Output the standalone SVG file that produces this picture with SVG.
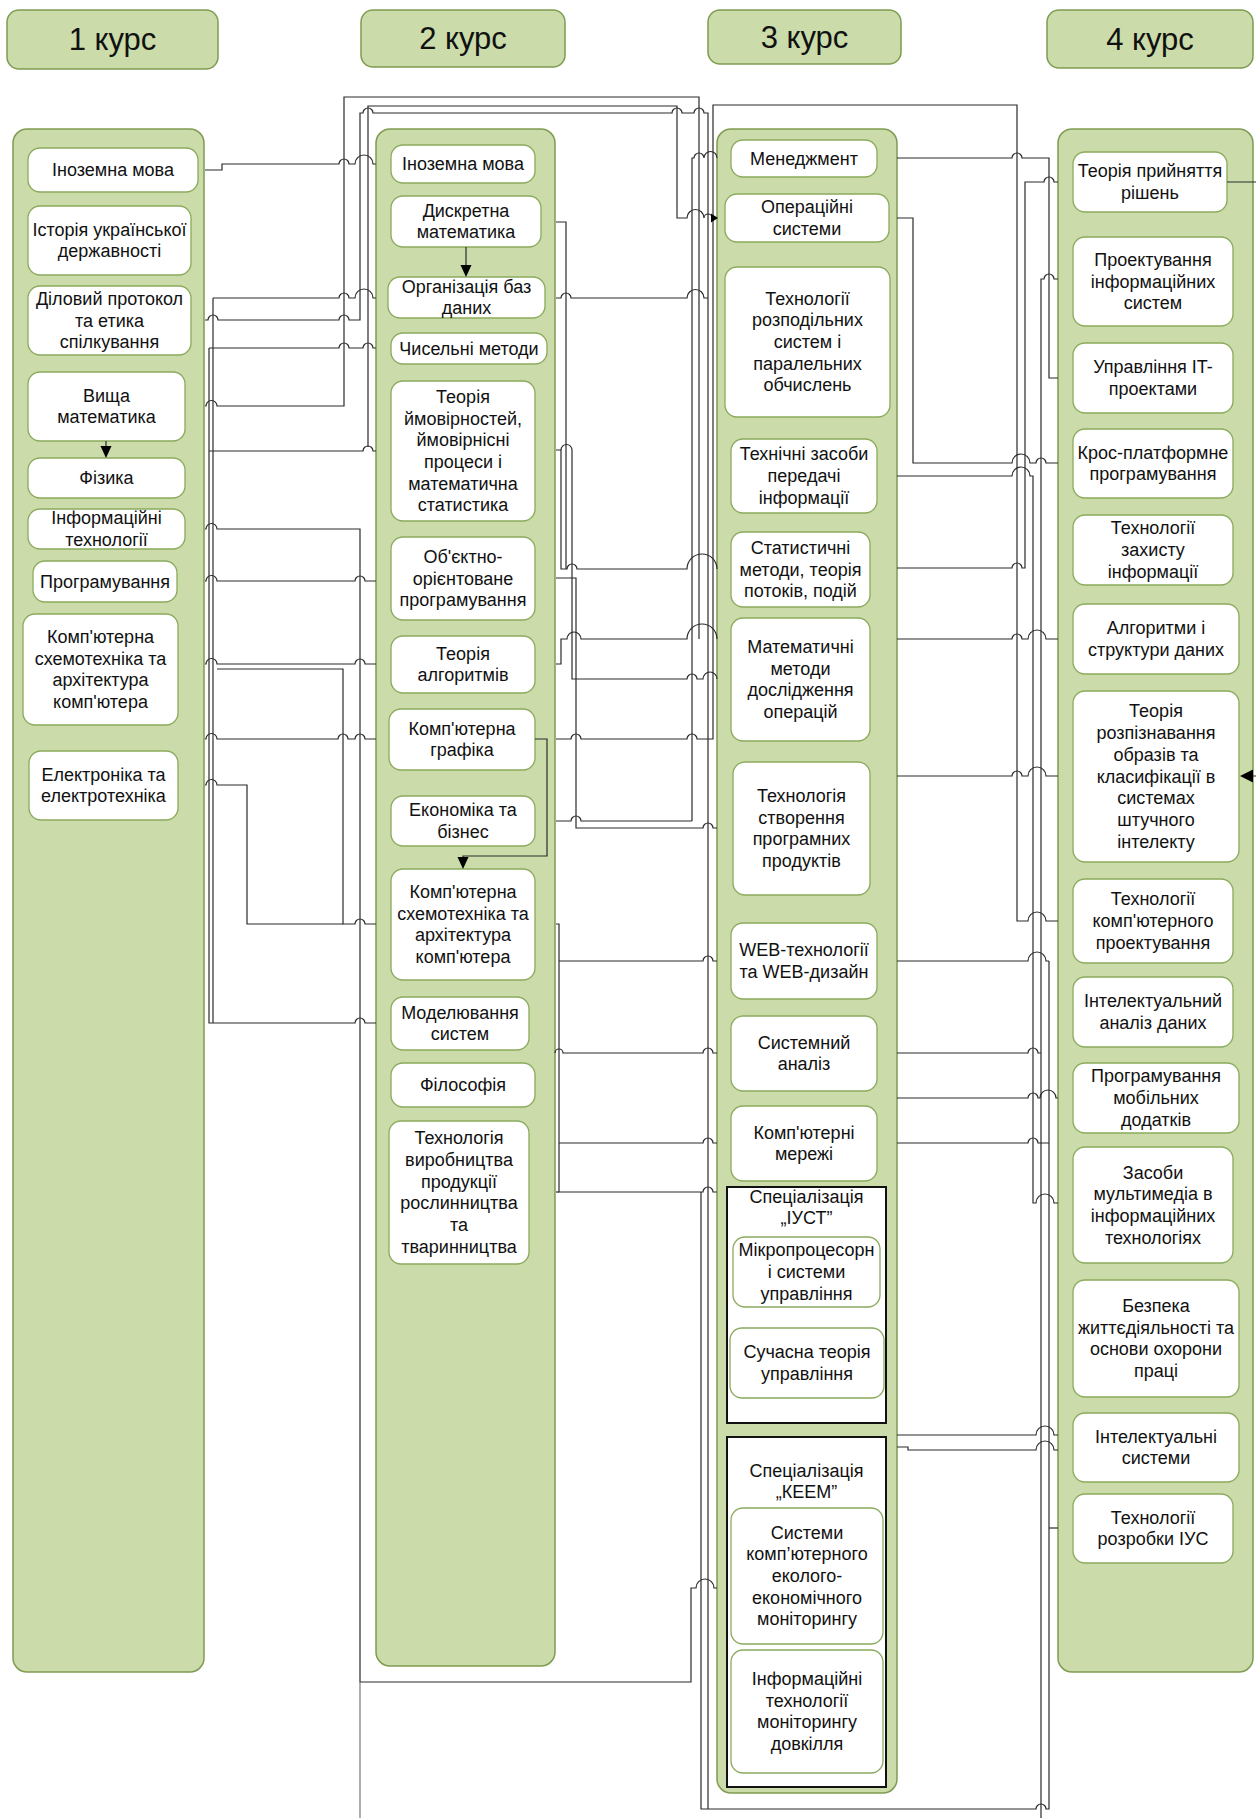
<svg xmlns="http://www.w3.org/2000/svg" width="1256" height="1818" viewBox="0 0 1256 1818">
<style>
.panel{fill:#cbdba9;stroke:#7f9c52;stroke-width:1.5}
.node{fill:#fff;stroke:#8aab5c;stroke-width:1.3}
.spec{fill:#fff;stroke:#111;stroke-width:2}
.t{font-family:"Liberation Sans",Arial,sans-serif;font-size:18px;fill:#111;text-anchor:middle;dominant-baseline:central}
.h{font-size:31px}
.c{fill:none;stroke:#2a2a2a;stroke-width:1.2}
.ah{fill:#000}
</style>
<rect width="1256" height="1818" fill="#fff"/>
<g id="headers">
<g id="h1"><rect class="panel" x="7" y="10" width="211" height="59" rx="12"/><text class="t h" x="112.5" y="39.5">1 курс</text></g>
<g id="h2"><rect class="panel" x="361" y="10" width="204" height="57" rx="12"/><text class="t h" x="463" y="38.5">2 курс</text></g>
<g id="h3"><rect class="panel" x="708" y="10" width="193" height="54" rx="12"/><text class="t h" x="804.5" y="37">3 курс</text></g>
<g id="h4"><rect class="panel" x="1047" y="10" width="206" height="58" rx="12"/><text class="t h" x="1150" y="39">4 курс</text></g>
</g>
<g id="panels">
<rect id="col1" class="panel" x="13" y="129" width="191" height="1543" rx="14"/>
<rect id="col2" class="panel" x="376" y="129" width="179" height="1537" rx="14"/>
<rect id="col3" class="panel" x="717" y="129" width="180" height="1664" rx="14"/>
<rect id="col4" class="panel" x="1058" y="129" width="195" height="1543" rx="14"/>
</g>
<g id="course1">
<g id="n1_1"><rect class="node" x="28" y="148" width="170" height="44" rx="12"/><text class="t" x="113" y="170">Іноземна мова</text></g>
<g id="n1_2"><rect class="node" x="28" y="206" width="163" height="69" rx="12"/><text class="t"><tspan x="109.5" y="229.6">Історія української</tspan><tspan x="109.5" y="251.4">державності</tspan></text></g>
<g id="n1_3"><rect class="node" x="28" y="286" width="163" height="69" rx="12"/><text class="t"><tspan x="109.5" y="298.8">Діловий протокол</tspan><tspan x="109.5" y="320.5">та етика</tspan><tspan x="109.5" y="342.2">спілкування</tspan></text></g>
<g id="n1_4"><rect class="node" x="28" y="372" width="157" height="69" rx="12"/><text class="t"><tspan x="106.5" y="395.6">Вища</tspan><tspan x="106.5" y="417.4">математика</tspan></text></g>
<g id="n1_5"><rect class="node" x="28" y="458" width="157" height="40" rx="12"/><text class="t" x="106.5" y="478">Фізика</text></g>
<g id="n1_6"><rect class="node" x="28" y="509" width="157" height="40" rx="12"/><text class="t"><tspan x="106.5" y="518.2">Інформаційні</tspan><tspan x="106.5" y="539.9">технології</tspan></text></g>
<g id="n1_7"><rect class="node" x="33" y="561" width="144" height="41" rx="12"/><text class="t" x="105" y="581.5">Програмування</text></g>
<g id="n1_8"><rect class="node" x="23" y="614" width="155" height="111" rx="12"/><text class="t"><tspan x="100.5" y="637">Комп'ютерна</tspan><tspan x="100.5" y="658.6">схемотехніка та</tspan><tspan x="100.5" y="680.4">архітектура</tspan><tspan x="100.5" y="702">комп'ютера</tspan></text></g>
<g id="n1_9"><rect class="node" x="29" y="751" width="149" height="69" rx="12"/><text class="t"><tspan x="103.5" y="774.6">Електроніка та</tspan><tspan x="103.5" y="796.4">електротехніка</tspan></text></g>
</g>
<g id="course2">
<g id="n2_1"><rect class="node" x="391" y="145" width="144" height="38" rx="12"/><text class="t" x="463" y="164">Іноземна мова</text></g>
<g id="n2_2"><rect class="node" x="391" y="196" width="150" height="51" rx="12"/><text class="t"><tspan x="466" y="210.6">Дискретна</tspan><tspan x="466" y="232.4">математика</tspan></text></g>
<g id="n2_3"><rect class="node" x="388" y="277" width="157" height="41" rx="12"/><text class="t"><tspan x="466.5" y="286.6">Організація баз</tspan><tspan x="466.5" y="308.4">даних</tspan></text></g>
<g id="n2_4"><rect class="node" x="391" y="333" width="156" height="31" rx="12"/><text class="t" x="469" y="348.5">Чисельні методи</text></g>
<g id="n2_5"><rect class="node" x="391" y="381" width="144" height="140" rx="12"/><text class="t"><tspan x="463" y="396.8">Теорія</tspan><tspan x="463" y="418.5">ймовірностей,</tspan><tspan x="463" y="440.2">ймовірнісні</tspan><tspan x="463" y="461.9">процеси і</tspan><tspan x="463" y="483.6">математична</tspan><tspan x="463" y="505.3">статистика</tspan></text></g>
<g id="n2_6"><rect class="node" x="391" y="537" width="144" height="83" rx="12"/><text class="t"><tspan x="463" y="556.8">Об'єктно-</tspan><tspan x="463" y="578.5">орієнтоване</tspan><tspan x="463" y="600.2">програмування</tspan></text></g>
<g id="n2_7"><rect class="node" x="391" y="636" width="144" height="57" rx="12"/><text class="t"><tspan x="463" y="653.6">Теорія</tspan><tspan x="463" y="675.4">алгоритмів</tspan></text></g>
<g id="n2_8"><rect class="node" x="389" y="709" width="146" height="61" rx="12"/><text class="t"><tspan x="462" y="728.6">Комп'ютерна</tspan><tspan x="462" y="750.4">графіка</tspan></text></g>
<g id="n2_9"><rect class="node" x="391" y="796" width="144" height="50" rx="12"/><text class="t"><tspan x="463" y="810.2">Економіка та</tspan><tspan x="463" y="831.9">бізнес</tspan></text></g>
<g id="n2_10"><rect class="node" x="391" y="869" width="144" height="111" rx="12"/><text class="t"><tspan x="463" y="892">Комп'ютерна</tspan><tspan x="463" y="913.6">схемотехніка та</tspan><tspan x="463" y="935.4">архітектура</tspan><tspan x="463" y="957">комп'ютера</tspan></text></g>
<g id="n2_11"><rect class="node" x="391" y="997" width="138" height="53" rx="12"/><text class="t"><tspan x="460" y="1012.6">Моделювання</tspan><tspan x="460" y="1034.4">систем</tspan></text></g>
<g id="n2_12"><rect class="node" x="391" y="1063" width="144" height="44" rx="12"/><text class="t" x="463" y="1085">Філософія</text></g>
<g id="n2_13"><rect class="node" x="389" y="1121" width="140" height="143" rx="12"/><text class="t"><tspan x="459" y="1138.2">Технологія</tspan><tspan x="459" y="1159.9">виробництва</tspan><tspan x="459" y="1181.6">продукції</tspan><tspan x="459" y="1203.4">рослинництва</tspan><tspan x="459" y="1225.1">та</tspan><tspan x="459" y="1246.8">тваринництва</tspan></text></g>
</g>
<g id="course3">
<g id="n3_1"><rect class="node" x="731" y="140" width="146" height="37" rx="12"/><text class="t" x="804" y="158.5">Менеджмент</text></g>
<g id="n3_2"><rect class="node" x="725" y="194" width="164" height="48" rx="12"/><text class="t"><tspan x="807" y="207.2">Операційні</tspan><tspan x="807" y="228.9">системи</tspan></text></g>
<g id="n3_3"><rect class="node" x="725" y="267" width="165" height="150" rx="12"/><text class="t"><tspan x="807.5" y="298.6">Технології</tspan><tspan x="807.5" y="320.3">розподільних</tspan><tspan x="807.5" y="342">систем і</tspan><tspan x="807.5" y="363.7">паралельних</tspan><tspan x="807.5" y="385.4">обчислень</tspan></text></g>
<g id="n3_4"><rect class="node" x="731" y="439" width="146" height="74" rx="12"/><text class="t"><tspan x="804" y="454.3">Технічні засоби</tspan><tspan x="804" y="476">передачі</tspan><tspan x="804" y="497.7">інформації</tspan></text></g>
<g id="n3_5"><rect class="node" x="731" y="532" width="139" height="75" rx="12"/><text class="t"><tspan x="800.5" y="547.8">Статистичні</tspan><tspan x="800.5" y="569.5">методи, теорія</tspan><tspan x="800.5" y="591.2">потоків, подій</tspan></text></g>
<g id="n3_6"><rect class="node" x="731" y="618" width="139" height="123" rx="12"/><text class="t"><tspan x="800.5" y="647">Математичні</tspan><tspan x="800.5" y="668.6">методи</tspan><tspan x="800.5" y="690.4">дослідження</tspan><tspan x="800.5" y="712">операцій</tspan></text></g>
<g id="n3_7"><rect class="node" x="733" y="762" width="137" height="133" rx="12"/><text class="t"><tspan x="801.5" y="796">Технологія</tspan><tspan x="801.5" y="817.6">створення</tspan><tspan x="801.5" y="839.4">програмних</tspan><tspan x="801.5" y="861">продуктів</tspan></text></g>
<g id="n3_8"><rect class="node" x="731" y="923" width="146" height="76" rx="12"/><text class="t"><tspan x="804" y="950.2">WEB-технології</tspan><tspan x="804" y="971.9">та WEB-дизайн</tspan></text></g>
<g id="n3_9"><rect class="node" x="731" y="1016" width="146" height="75" rx="12"/><text class="t"><tspan x="804" y="1042.6">Системний</tspan><tspan x="804" y="1064.4">аналіз</tspan></text></g>
<g id="n3_10"><rect class="node" x="731" y="1106" width="146" height="75" rx="12"/><text class="t"><tspan x="804" y="1132.6">Комп'ютерні</tspan><tspan x="804" y="1154.4">мережі</tspan></text></g>
<g id="spec1"><rect class="spec" x="727" y="1187" width="159" height="236"/><text class="t"><tspan x="806.5" y="1197">Спеціалізація</tspan><tspan x="806.5" y="1218">„ІУСТ”</tspan></text></g>
<g id="n3_11"><rect class="node" x="733" y="1237" width="147" height="70" rx="12"/><text class="t"><tspan x="806.5" y="1250.3">Мікропроцесорн</tspan><tspan x="806.5" y="1272">і системи</tspan><tspan x="806.5" y="1293.7">управління</tspan></text></g>
<g id="n3_12"><rect class="node" x="730" y="1328" width="154" height="70" rx="12"/><text class="t"><tspan x="807" y="1352.2">Сучасна теорія</tspan><tspan x="807" y="1373.9">управління</tspan></text></g>
<g id="spec2"><rect class="spec" x="727" y="1437" width="159" height="350"/><text class="t"><tspan x="806.5" y="1471">Спеціалізація</tspan><tspan x="806.5" y="1492">„КЕЕМ”</tspan></text></g>
<g id="n3_13"><rect class="node" x="731" y="1508" width="152" height="136" rx="12"/><text class="t"><tspan x="807" y="1532.6">Системи</tspan><tspan x="807" y="1554.3">комп’ютерного</tspan><tspan x="807" y="1576">еколого-</tspan><tspan x="807" y="1597.7">економічного</tspan><tspan x="807" y="1619.4">моніторингу</tspan></text></g>
<g id="n3_14"><rect class="node" x="731" y="1650" width="152" height="123" rx="12"/><text class="t"><tspan x="807" y="1679">Інформаційні</tspan><tspan x="807" y="1700.6">технології</tspan><tspan x="807" y="1722.4">моніторингу</tspan><tspan x="807" y="1744">довкілля</tspan></text></g>
</g>
<g id="course4">
<g id="n4_1"><rect class="node" x="1073" y="152" width="154" height="60" rx="12"/><text class="t"><tspan x="1150" y="171.2">Теорія прийняття</tspan><tspan x="1150" y="192.9">рішень</tspan></text></g>
<g id="n4_2"><rect class="node" x="1073" y="237" width="160" height="89" rx="12"/><text class="t"><tspan x="1153" y="259.8">Проектування</tspan><tspan x="1153" y="281.5">інформаційних</tspan><tspan x="1153" y="303.2">систем</tspan></text></g>
<g id="n4_3"><rect class="node" x="1073" y="343" width="160" height="70" rx="12"/><text class="t"><tspan x="1153" y="367.2">Управління IT-</tspan><tspan x="1153" y="388.9">проектами</tspan></text></g>
<g id="n4_4"><rect class="node" x="1073" y="429" width="160" height="69" rx="12"/><text class="t"><tspan x="1153" y="452.6">Крос-платформне</tspan><tspan x="1153" y="474.4">програмування</tspan></text></g>
<g id="n4_5"><rect class="node" x="1073" y="515" width="160" height="70" rx="12"/><text class="t"><tspan x="1153" y="528.3">Технології</tspan><tspan x="1153" y="550">захисту</tspan><tspan x="1153" y="571.7">інформації</tspan></text></g>
<g id="n4_6"><rect class="node" x="1073" y="604" width="166" height="70" rx="12"/><text class="t"><tspan x="1156" y="628.2">Алгоритми і</tspan><tspan x="1156" y="649.9">структури даних</tspan></text></g>
<g id="n4_7"><rect class="node" x="1073" y="691" width="166" height="171" rx="12"/><text class="t"><tspan x="1156" y="711.4">Теорія</tspan><tspan x="1156" y="733.1">розпізнавання</tspan><tspan x="1156" y="754.8">образів та</tspan><tspan x="1156" y="776.5">класифікації в</tspan><tspan x="1156" y="798.2">системах</tspan><tspan x="1156" y="819.9">штучного</tspan><tspan x="1156" y="841.6">інтелекту</tspan></text></g>
<g id="n4_8"><rect class="node" x="1073" y="879" width="160" height="84" rx="12"/><text class="t"><tspan x="1153" y="899.3">Технології</tspan><tspan x="1153" y="921">комп'ютерного</tspan><tspan x="1153" y="942.7">проектування</tspan></text></g>
<g id="n4_9"><rect class="node" x="1073" y="977" width="160" height="70" rx="12"/><text class="t"><tspan x="1153" y="1001.2">Інтелектуальний</tspan><tspan x="1153" y="1022.9">аналіз даних</tspan></text></g>
<g id="n4_10"><rect class="node" x="1073" y="1063" width="166" height="70" rx="12"/><text class="t"><tspan x="1156" y="1076.3">Програмування</tspan><tspan x="1156" y="1098">мобільних</tspan><tspan x="1156" y="1119.7">додатків</tspan></text></g>
<g id="n4_11"><rect class="node" x="1073" y="1147" width="160" height="116" rx="12"/><text class="t"><tspan x="1153" y="1172.5">Засоби</tspan><tspan x="1153" y="1194.2">мультимедіа в</tspan><tspan x="1153" y="1215.9">інформаційних</tspan><tspan x="1153" y="1237.6">технологіях</tspan></text></g>
<g id="n4_12"><rect class="node" x="1073" y="1280" width="166" height="117" rx="12"/><text class="t"><tspan x="1156" y="1306">Безпека</tspan><tspan x="1156" y="1327.7">життєдіяльності та</tspan><tspan x="1156" y="1349.4">основи охорони</tspan><tspan x="1156" y="1371">праці</tspan></text></g>
<g id="n4_13"><rect class="node" x="1073" y="1413" width="166" height="69" rx="12"/><text class="t"><tspan x="1156" y="1436.7">Інтелектуальні</tspan><tspan x="1156" y="1458.4">системи</tspan></text></g>
<g id="n4_14"><rect class="node" x="1073" y="1494" width="160" height="69" rx="12"/><text class="t"><tspan x="1153" y="1517.7">Технології</tspan><tspan x="1153" y="1539.4">розробки ІУС</tspan></text></g>
</g>
<g id="connectors" class="c">
<path d="M205 170 H222 V164 H339 A5 5 0 0 1 349 164 H355 A9 9 0 0 1 373 164 H376"/>
<path d="M213 298 H339 A5 5 0 0 1 349 298 H355 A9 9 0 0 1 373 298 H376"/>
<path d="M205 320 H208 A5 5 0 0 1 218 320 H339 A5 5 0 0 1 349 320 H360 V113 H363 A5 5 0 0 1 373 113 H672 A5 5 0 0 1 682 113 H694 A5 5 0 0 1 704 113 H708 V1809"/>
<path d="M209 348 H339 A5 5 0 0 1 349 348 H363 A5 5 0 0 1 373 348 H376"/>
<path d="M205 406 H206 A5.5 5.5 0 0 1 217 406 H344 V97 H699 V639"/>
<path d="M368 447 V106 H677 V218 H687 A8.5 8.5 0 0 1 704 218 A4 4 0 0 1 712 218"/>
<path d="M209 451 H363 A5 5 0 0 1 373 451 H376"/>
<path d="M205 529 H206 A5.5 5.5 0 0 1 217 529 H360 V1682 H691 V1588 H696 A9 9 0 0 1 714 1588 H717"/>
<path d="M360 1682 V1818" stroke="#777"/>
<path d="M205 581 H206 A5.5 5.5 0 0 1 217 581 H355 A5 5 0 0 1 365 581 H376"/>
<path d="M205 664 H206 A5.5 5.5 0 0 1 217 664 H355 A5 5 0 0 1 365 664 H376"/>
<path d="M217 669 H343 V924 H355 A5 5 0 0 1 365 924 H376"/>
<path d="M205 739 H206 A5.5 5.5 0 0 1 217 739 H338 A5 5 0 0 1 348 739 H355 A5 5 0 0 1 365 739 H376"/>
<path d="M205 785 H206 A5.5 5.5 0 0 1 217 785 H247 V924 H343"/>
<path d="M213 298 V1023"/>
<path d="M209 348 V1023 H355 A5 5 0 0 1 365 1023 H376"/>
<path d="M692 821 V158 H694 A5 5 0 0 1 704 158 A6.5 6.5 0 0 1 717 158"/>
<path d="M556 821 H571 A5 5 0 0 1 581 821 H692"/>
<path d="M556 222 H566 V569"/>
<path d="M556 450 H561 V569 H567 A5 5 0 0 1 577 569 H687 A15 15 0 0 1 717 569"/>
<path d="M561 450 A5.5 5.5 0 0 1 572 450 V679 H687 A5 5 0 0 1 697 679 H703 A7 7 0 0 1 717 679"/>
<path d="M556 298 H561 A5 5 0 0 1 571 298 H687 A8.5 8.5 0 0 1 704 298 H708"/>
<path d="M556 578 H576 V828 H703 A5 5 0 0 1 713 828 H717"/>
<path d="M556 664 H561 V639 H567 A7 7 0 0 1 581 639 H687 A15 15 0 0 1 717 639"/>
<path d="M556 739 H571 A5 5 0 0 1 581 739 H687 A5 5 0 0 1 697 739 H713 V105 H1017 V921 H1028 A9 9 0 0 1 1046 921 H1058"/>
<path d="M556 924 H559 V1192 H703 A5 5 0 0 1 713 1192 H717"/>
<path d="M556 1192 H559"/>
<path d="M559 961 H703 A5 5 0 0 1 713 961 H717"/>
<path d="M555 1053 A4 4 0 0 1 563 1053 H703 A5 5 0 0 1 713 1053 H717"/>
<path d="M559 1143 H703 A5 5 0 0 1 713 1143 H717"/>
<path d="M701 1192 V1809 H1036 A5 5 0 0 1 1046 1809 H1049 V961"/>
<path d="M897 961 H1028 A9 9 0 0 1 1046 961 H1049"/>
<path d="M897 158 H1012 A5 5 0 0 1 1022 158 H1049 V378 H1058"/>
<path d="M897 218 H913 V463 H1012 A9 9 0 0 1 1030 463 H1036 A5 5 0 0 1 1046 463 H1058"/>
<path d="M897 568 H1012 A5 5 0 0 1 1022 568 H1025 V182 H1044 A5 5 0 0 1 1054 182 H1058"/>
<path d="M897 476 H1012 A9 9 0 0 1 1030 476 H1033 V1203 H1036 A9 9 0 0 1 1054 1203 H1058"/>
<path d="M1041 1818 V279 H1044 A5 5 0 0 1 1054 279 H1058"/>
<path d="M897 639 H1012 A5 5 0 0 1 1022 639 H1028 A9 9 0 0 1 1046 639 H1058"/>
<path d="M897 776 H1012 A5 5 0 0 1 1022 776 H1028 A9 9 0 0 1 1046 776 H1058"/>
<path d="M897 1053 H1028 A5 5 0 0 1 1038 1053 H1041"/>
<path d="M897 1098 H1028 A5 5 0 0 1 1038 1098 H1040 A8 8 0 0 1 1056 1098 H1058"/>
<path d="M897 1143 H1028 A5 5 0 0 1 1038 1143 H1049"/>
<path d="M897 1435 H1036 A9 9 0 0 1 1054 1435 H1058"/>
<path d="M897 1447 H908 V1450 H1036 A9 9 0 0 1 1054 1450 H1058"/>
<path d="M1049 1528 H1058"/>
<path d="M1227 182 H1262 V776 H1252"/>
<path d="M106 441 V447"/>
<path d="M466 247 V266"/>
<path d="M535 739 H547 V856 H463 V858"/>
</g>
<g id="arrowheads" class="ah">
<polygon points="718,218 711,213.5 711,222.5"/>
<polygon points="1240,776 1253,769.5 1253,782.5"/>
<polygon points="106,458 100.5,446 111.5,446"/>
<polygon points="466,277 460.5,265 471.5,265"/>
<polygon points="463,869 457.5,857 468.5,857"/>
</g>
</svg>
